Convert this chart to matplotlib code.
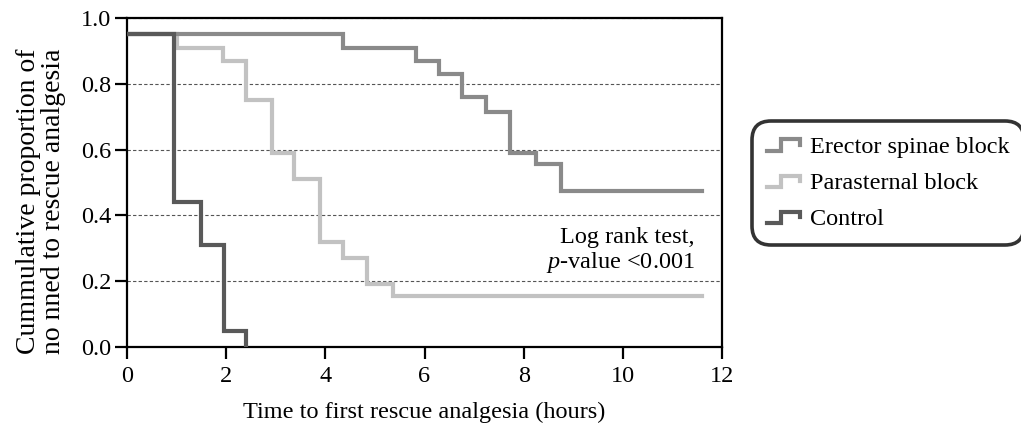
import numpy as np
import matplotlib
matplotlib.use("Agg")
import matplotlib.pyplot as plt
from matplotlib.lines import Line2D
from matplotlib.legend_handler import HandlerBase

# Kaplan-Meier step data (hours, proportion)
control_t = [0, 0.95, 1.49, 1.96, 2.41]
control_s = [0.95, 0.44, 0.31, 0.05, 0.0]

para_t = [0, 1.0, 1.94, 2.40, 2.92, 3.37, 3.89, 4.36, 4.84, 5.36, 11.59]
para_s = [0.95, 0.91, 0.87, 0.75, 0.59, 0.51, 0.32, 0.27, 0.19, 0.155, 0.155]

esp_t = [0, 4.36, 5.83, 6.29, 6.75, 7.25, 7.72, 8.25, 8.76, 11.59]
esp_s = [0.95, 0.91, 0.87, 0.83, 0.76, 0.715, 0.59, 0.555, 0.475, 0.475]

labels = ["Erector spinae block", "Parasternal block", "Control"]
colors = ["#8a8a8a", "#c2c2c2", "#595959"]

x_ticks = [0, 2, 4, 6, 8, 10, 12]
y_ticks = [0.0, 0.2, 0.4, 0.6, 0.8, 1.0]

plt.rcParams['font.family'] = ['Liberation Serif', 'DejaVu Serif']
plt.rcParams['mathtext.fontset'] = 'custom'
plt.rcParams['mathtext.rm'] = 'Liberation Serif'
plt.rcParams['mathtext.it'] = 'Liberation Serif:italic'

FS = 17.5


class StepHandler(HandlerBase):
    # draws the little step icon used in the legend
    def create_artists(self, legend, orig_handle, xdescent, ydescent,
                       width, height, fontsize, trans):
        xs = np.array([0.0, 0.42, 0.42, 1.0, 1.0]) * width - xdescent
        ys = np.array([0.15, 0.15, 0.8, 0.8, 0.5]) * height - ydescent
        ln = Line2D(xs, ys, color=orig_handle.get_color(),
                    lw=orig_handle.get_linewidth(), solid_joinstyle='miter',
                    transform=trans)
        return [ln]


fig = plt.figure(figsize=(10.21, 4.32), dpi=100)
ax = fig.add_axes([127 / 1021, 85 / 432, 595 / 1021, 329 / 432])

lw = 3.0
h_para, = ax.step(para_t, para_s, where='post', color=colors[1], lw=lw,
                  solid_joinstyle='miter', zorder=3)
h_esp, = ax.step(esp_t, esp_s, where='post', color=colors[0], lw=lw,
                 solid_joinstyle='miter', zorder=4)
h_ctrl, = ax.step(control_t, control_s, where='post', color=colors[2], lw=lw,
                  solid_joinstyle='miter', zorder=5)

ax.set_xlim(0, 12)
ax.set_ylim(0, 1.0)
ax.set_xticks(x_ticks)
ax.set_yticks(y_ticks)
ax.set_xticklabels([str(v) for v in x_ticks])
ax.set_yticklabels(["%.1f" % v for v in y_ticks])
ax.tick_params(direction='out', length=8.5, width=1.6, labelsize=FS)
ax.tick_params(axis='x', pad=5)
ax.tick_params(axis='y', pad=3)

for sp in ax.spines.values():
    sp.set_linewidth(1.6)

ax.yaxis.grid(True, linestyle=(0, (3, 2)), color='#555555', lw=0.8)
ax.set_axisbelow(True)

ax.set_xlabel("Time to first rescue analgesia (hours)", fontsize=FS, labelpad=11)
fig.text(41 / 1021, 1 - 201 / 432,
         "Cummulative proportion of\nno nned to rescue analgesia",
         rotation=90, ha='center', va='center', fontsize=20,
         linespacing=0.95, multialignment='center')

ax.text(11.45, 0.293, "Log rank test,\n$\\mathit{p}$-value <0.001",
        ha='right', va='center', multialignment='right', fontsize=FS,
        linespacing=1.1)

leg = fig.legend([h_esp, h_para, h_ctrl], labels,
                 handler_map={Line2D: StepHandler()},
                 loc='upper left', bbox_to_anchor=(752 / 1021, 1 - 121 / 432),
                 fontsize=FS, frameon=True, fancybox=True, handlelength=1.35,
                 handletextpad=0.4, borderpad=0.62, borderaxespad=0,
                 labelspacing=0.58)
frame = leg.get_frame()
frame.set_edgecolor('black')
frame.set_linewidth(2.6)
frame.set_boxstyle('round', pad=0, rounding_size=0.8)

fig.savefig("out.png", dpi=100)
